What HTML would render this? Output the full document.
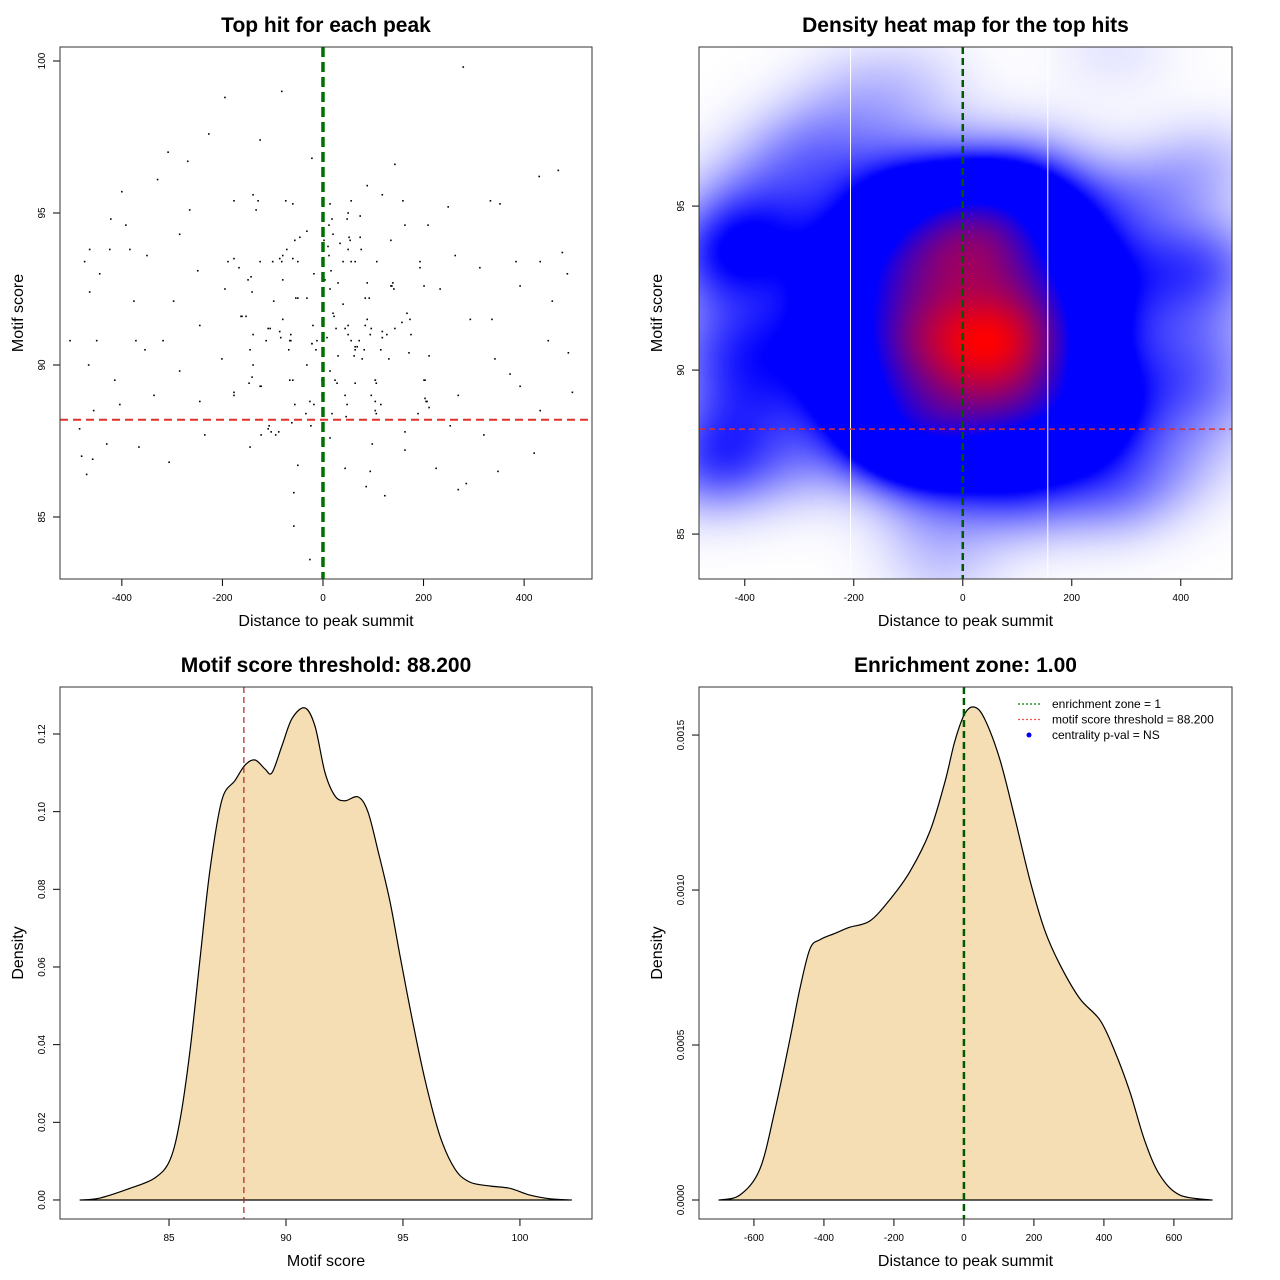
<!DOCTYPE html>
<html><head><meta charset="utf-8"><style>
body{margin:0;background:#fff;width:1280px;height:1280px;overflow:hidden;position:relative;font-family:"Liberation Sans",sans-serif}
svg{position:absolute;left:0;top:0}
canvas{position:absolute}
</style></head><body>
<canvas id="heat" style="left:699px;top:47px;width:533px;height:532px" width="533" height="532"></canvas>
<svg id="s" width="1280" height="1280"></svg>
<script>
// ---- Panel 1 data: scatter (distance, score)
const scatterX=[-26,-195,-82,279,-227,-308,-269,-125,143,-329,-400,88,430,468,-22,-139,-177,-129,-74,-422,-392,-265,14,50,159,249,333,352,-474,-464,-424,-444,-384,-350,-285,-249,-189,-125,-86,-56,-32,34,74,107,137,193,263,312,384,432,476,486,-464,-376,-297,-195,-149,-54,14,84,233,392,456,-503,-450,-372,-318,-245,-163,-105,-66,-22,44,94,143,173,293,336,448,-466,-414,-354,-285,-201,-139,-66,14,64,104,203,342,372,392,488,496,-456,-404,-336,-245,-177,-125,-26,44,205,269,432,-484,-430,-366,-235,-145,-109,14,98,163,253,320,-480,-458,-306,-50,44,94,225,348,420,-470,86,123,269,285,-58,-58,
118,-60,56,-133,74,18,48,12,163,209,20,-46,52,2,54,135,10,-72,50,76,-80,12,-60,-177,-100,-82,-50,40,56,64,-167,16,193,-18,-143,4,-80,30,88,139,135,201,141,-141,-50,-32,92,-98,40,-161,-153,20,22,167,-80,88,157,-109,-20,26,50,84,96,-86,118,-139,-64,0,50,127,175,-84,8,118,-113,-64,-12,56,72,-22,64,68,-145,-68,-14,82,115,171,211,30,62,78,131,-32,-141,-147,-123,-60,-2,24,28,64,104,106,201,-177,-2,96,104,203,207,-56,-18,48,115,211,-34,18,104,106,189,46,-74,-62,-107,-24,-103,-88,-123,-94,163];
const scatterY=[83.6,98.8,99.0,99.8,97.6,97.0,96.7,97.4,96.6,96.1,95.7,95.9,96.2,96.4,96.8,95.6,95.4,95.4,95.4,94.8,94.6,95.1,95.3,95.0,95.4,95.2,95.4,95.3,93.4,93.8,93.8,93.0,93.8,93.6,94.3,93.1,93.4,93.4,93.5,94.1,94.4,94.0,94.2,93.4,92.6,93.4,93.6,93.2,93.4,93.4,93.7,93.0,92.4,92.1,92.1,92.5,92.8,92.2,92.5,92.2,92.5,92.6,92.1,90.8,90.8,90.8,90.8,91.3,91.6,91.2,90.8,90.7,91.2,91.0,91.2,91.5,91.5,91.5,90.8,90.0,89.5,90.5,89.8,90.2,90.0,89.5,89.8,90.5,89.5,89.5,90.2,89.7,89.3,90.4,89.1,88.5,88.7,89.0,88.8,89.0,89.3,88.8,89.0,88.8,89.0,88.5,87.9,87.4,87.3,87.7,87.3,87.9,87.6,87.4,87.2,88.0,87.7,87.0,86.9,86.8,86.7,86.6,86.5,86.6,86.5,87.1,86.4,86.0,85.7,85.9,86.1,85.8,84.7,
95.6,95.3,95.4,95.1,94.9,94.8,94.8,94.6,94.6,94.6,94.3,94.2,94.2,94.1,94.1,94.1,93.9,93.8,93.8,93.8,93.6,93.6,93.5,93.5,93.4,93.4,93.4,93.4,93.4,93.4,93.2,93.1,93.2,93.0,92.9,92.8,92.8,92.7,92.7,92.7,92.6,92.6,92.5,92.4,92.2,92.2,92.2,92.1,92.0,91.6,91.6,91.7,91.6,91.7,91.5,91.5,91.4,91.2,91.3,91.2,91.3,91.3,91.2,91.1,91.1,91.0,91.0,91.0,91.0,91.0,91.0,90.9,90.9,90.9,90.8,90.8,90.8,90.8,90.8,90.7,90.6,90.6,90.5,90.5,90.5,90.5,90.5,90.4,90.3,90.3,90.3,90.2,90.2,90.0,89.6,89.4,89.3,89.5,89.5,89.5,89.4,89.4,89.5,89.4,89.5,89.1,89.0,89.0,88.8,88.9,88.8,88.7,88.7,88.7,88.7,88.6,88.4,88.4,88.5,88.4,88.4,88.3,88.2,88.1,88.0,88.0,87.8,87.8,87.7,87.7,87.8];
// ---- Panel 3 data: density of motif scores
const scoreX=[81.2,82.05,83.33,84.4,85.04,85.47,85.9,86.32,86.75,87.26,87.82,88.25,88.68,89.1,89.4,89.83,90.26,90.81,91.24,91.67,92.1,92.52,93.08,93.5,93.93,94.44,94.87,95.38,95.94,96.58,97.22,97.86,98.72,99.57,100.4,101.3,102.2];
const scoreD=[0,0.0005,0.003,0.0057,0.0103,0.0206,0.0386,0.0618,0.085,0.103,0.108,0.112,0.1133,0.111,0.110,0.117,0.124,0.1267,0.122,0.11,0.104,0.1028,0.1038,0.1,0.09,0.077,0.063,0.047,0.031,0.0165,0.008,0.0046,0.0036,0.003,0.0013,0.0003,0];
// ---- Panel 4 data: density of distances
const distX=[-700,-640,-583,-540,-497,-469,-440,-411,-369,-326,-269,-211,-154,-97,-54,-26,3,31,60,103,146,189,231,274,331,389,431,474,517,560,617,709];
const distD=[0,0.000016,0.0001,0.00029,0.00052,0.00068,0.00081,0.00084,0.00086,0.00088,0.0009,0.00097,0.00106,0.00119,0.00135,0.00148,0.00157,0.00159,0.00155,0.00142,0.00123,0.00103,0.00087,0.00076,0.00065,0.00058,0.00048,0.00035,0.00019,0.00008,0.000016,0];
const threshold=88.2;
const xTicks1=[-400,-200,0,200,400], yTicks1=[85,90,95,100];
const yTicks2=[85,90,95];
const xTicks3=[85,90,95,100], yTicks3=[0,0.02,0.04,0.06,0.08,0.1,0.12];
const xTicks4=[-600,-400,-200,0,200,400,600], yTicks4=[0,0.0005,0.001,0.0015];

const NS="http://www.w3.org/2000/svg", svg=document.getElementById('s');
function el(t,a,p){const e=document.createElementNS(NS,t);for(const k in a)e.setAttribute(k,a[k]);(p||svg).appendChild(e);return e;}
function smooth(pts){let d='M'+pts[0][0]+','+pts[0][1];
 for(let i=0;i<pts.length-1;i++){const p0=pts[Math.max(0,i-1)],p1=pts[i],p2=pts[i+1],p3=pts[Math.min(pts.length-1,i+2)];
  const c1=[p1[0]+(p2[0]-p0[0])/6,p1[1]+(p2[1]-p0[1])/6],c2=[p2[0]-(p3[0]-p1[0])/6,p2[1]-(p3[1]-p1[1])/6];
  d+=` C${c1[0]},${c1[1]} ${c2[0]},${c2[1]} ${p2[0]},${p2[1]}`;}
 return d;}
function panel(name,L,T,R,B,xr,yr,title,xl,yl,xt,yt,fmt){
  const g=el('g',{});
  
  
  const sx=v=>L+(v-xr[0])/(xr[1]-xr[0])*(R-L), sy=v=>B-(v-yr[0])/(yr[1]-yr[0])*(B-T);
  const t=el('text',{x:(L+R)/2,y:T-15,'text-anchor':'middle','font-size':21,'font-weight':'bold'},g);t.textContent=title;
  
  const xa=el('text',{x:(L+R)/2,y:B+47,'text-anchor':'middle','font-size':16},g);xa.textContent=xl;
  
  const ya=el('text',{x:0,y:0,'text-anchor':'middle','font-size':16,transform:`translate(${L-37},${(T+B)/2}) rotate(-90)`},g);ya.textContent=yl;
  
  xt.forEach(v=>{const x=sx(v);el('line',{x1:x,x2:x,y1:B,y2:B+7,stroke:'#000'},g);
    const l=el('text',{x:x,y:B+22,'text-anchor':'middle','font-size':10},g);l.textContent=fmt[0](v);
    });
  yt.forEach(v=>{const y=sy(v);el('line',{x1:L-7,x2:L,y1:y,y2:y,stroke:'#000'},g);
    const l=el('text',{x:0,y:0,'text-anchor':'middle','font-size':10,transform:`translate(${L-15},${y}) rotate(-90)`},g);l.textContent=fmt[1](v);
    });
  return {g,sx,sy,L,T,R,B};
}
function box(p){const r=el('rect',{x:p.L,y:p.T,width:p.R-p.L,height:p.B-p.T,fill:'none',stroke:'#333'},p.g);}
const I=v=>String(v);
// Panel 1
const p1=panel('scatter-panel',60,47,592,579,[-523,535],[82.96,100.46],'Top hit for each peak','Distance to peak summit','Motif score',xTicks1,yTicks1,[I,I]);
scatterX.forEach((x,i)=>{const d=el('rect',{x:p1.sx(x)-0.8,y:p1.sy(scatterY[i])-0.8,width:1.6,height:1.6,fill:'#000'},p1.g);
  });
let l=el('line',{x1:p1.L,x2:p1.R,y1:p1.sy(threshold),y2:p1.sy(threshold),stroke:'#e0302a','stroke-width':2,'stroke-dasharray':'8,5'},p1.g);

l=el('line',{x1:p1.sx(0),x2:p1.sx(0),y1:p1.T,y2:p1.B,stroke:'#007000','stroke-width':3.5,'stroke-dasharray':'10,5'},p1.g);

box(p1);
// Panel 2 heatmap
const p2=panel('heatmap-panel',699,47,1232,579,[-484,494],[83.63,99.85],'Density heat map for the top hits','Distance to peak summit','Motif score',xTicks1,yTicks2,[I,I]);
(function(){const c=document.getElementById('heat'),ctx=c.getContext('2d');const W=533,H=532,st=3;
 const gw=Math.ceil(W/st),gh=Math.ceil(H/st),den=new Float32Array(gw*gh);let mx=0;const bx=82,by=1.05;
 for(let j=0;j<gh;j++)for(let i=0;i<gw;i++){const x=-484+(i*st+1)/W*978,y=99.85-(j*st+1)/H*16.22;let s=0;
  for(let k=0;k<scatterX.length;k++){const dx=(x-scatterX[k])/bx,dy=(y-scatterY[k])/by;s+=Math.exp(-0.5*(dx*dx+dy*dy));}
  den[j*gw+i]=s;if(s>mx)mx=s;}
 const img=ctx.createImageData(gw,gh);
 for(let n=0;n<gw*gh;n++){let t=den[n]/mx,r,g,b;const a=0.18,a2=0.5;
  if(t<a){const u=Math.pow(t/a,1.2);r=255*(1-u);g=255*(1-u);b=255;}
  else if(t<a2){r=0;g=0;b=255;}
  else{const u=Math.pow((t-a2)/(1-a2),0.9);r=255*u;g=0;b=255*(1-u);}
  img.data[n*4]=r;img.data[n*4+1]=g;img.data[n*4+2]=b;img.data[n*4+3]=255;}
 const tc=document.createElement('canvas');tc.width=gw;tc.height=gh;tc.getContext('2d').putImageData(img,0,0);
 ctx.imageSmoothingEnabled=true;ctx.drawImage(tc,0,0,W,H);})();
[-206,156].forEach(v=>{const w=el('line',{x1:p2.sx(v),x2:p2.sx(v),y1:p2.T,y2:p2.B,stroke:'#fff','stroke-width':1},p2.g);});
l=el('line',{x1:p2.L,x2:p2.R,y1:p2.sy(threshold),y2:p2.sy(threshold),stroke:'#e0302a','stroke-width':1.5,'stroke-dasharray':'6,4'},p2.g);

l=el('line',{x1:p2.sx(0),x2:p2.sx(0),y1:p2.T,y2:p2.B,stroke:'#005a00','stroke-width':2.5,'stroke-dasharray':'7,4'},p2.g);

box(p2);
// Panel 3
const f2=v=>v.toFixed(2);
const p3=panel('score-density-panel',60,687,592,1219,[80.34,103.08],[-0.0049,0.1321],'Motif score threshold: 88.200','Motif score','Density',xTicks3,yTicks3,[I,f2]);
let d=smooth(scoreX.map((x,i)=>[p3.sx(x),p3.sy(scoreD[i])]));
l=el('path',{d:d+'Z',fill:'#f5deb3',stroke:'#000','stroke-width':1.2,'stroke-linejoin':'round'},p3.g);

l=el('line',{x1:p3.sx(threshold),x2:p3.sx(threshold),y1:p3.T,y2:p3.B,stroke:'#b22222','stroke-width':1.2,'stroke-dasharray':'6,4'},p3.g);

box(p3);
// Panel 4
const f4=v=>v.toFixed(4);
const p4=panel('distance-density-panel',699,687,1232,1219,[-757,766],[-0.0000613,0.001655],'Enrichment zone: 1.00','Distance to peak summit','Density',xTicks4,yTicks4,[I,f4]);
d=smooth(distX.map((x,i)=>[p4.sx(x),p4.sy(distD[i])]));
l=el('path',{d:d+'Z',fill:'#f5deb3',stroke:'#000','stroke-width':1.2,'stroke-linejoin':'round'},p4.g);

l=el('line',{x1:p4.sx(0),x2:p4.sx(0),y1:p4.T,y2:p4.B,stroke:'#005a00','stroke-width':2.5,'stroke-dasharray':'7,4'},p4.g);

box(p4);
const lg=el('g',{},p4.g);
[['enrichment zone = 1','#008000','line'],['motif score threshold = 88.200','#ff5050','line'],['centrality p-val = NS','#0000ff','dot']].forEach((e,i)=>{
 const y=704+i*15.5;
 if(e[2]=='line')el('line',{x1:1018,x2:1042,y1:y,y2:y,stroke:e[1],'stroke-width':1.2,'stroke-dasharray':'2,2'},lg);else el('circle',{cx:1029,cy:y,r:2.5,fill:e[1]},lg);
 const t=el('text',{x:1052,y:y+4,'font-size':12},lg);t.textContent=e[0];
 });
</script>
</body></html>
